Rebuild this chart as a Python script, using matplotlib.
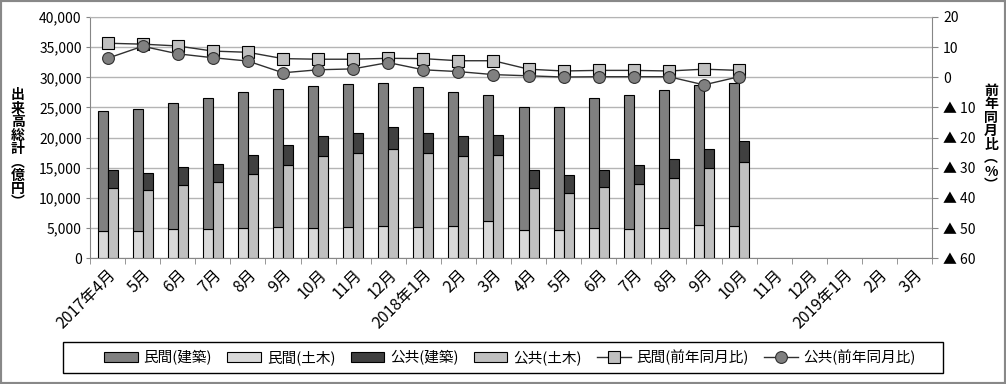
import matplotlib
matplotlib.use("Agg")
import matplotlib.pyplot as plt
from matplotlib.patches import Patch, Rectangle
from matplotlib.lines import Line2D
import numpy as np

plt.rcParams['font.family'] = ['Noto Sans CJK JP', 'DejaVu Sans']

months = ['2017年4月', '5月', '6月', '7月', '8月', '9月', '10月', '11月', '12月',
          '2018年1月', '2月', '3月', '4月', '5月', '6月', '7月', '8月', '9月', '10月',
          '11月', '12月', '2019年1月', '2月', '3月']

# 億円
minkan_doboku = [4500, 4500, 4850, 4850, 4970, 5130, 4970, 5130, 5300, 5130,
                 5300, 6170, 4700, 4700, 4970, 4800, 4970, 5460, 5300]
minkan_kenchiku = [20000, 20200, 20950, 21800, 22600, 23000, 23600, 23700, 23700, 23200,
                   22350, 20850, 20300, 20450, 21550, 22350, 23000, 23350, 23800]
kokyo_doboku = [11600, 11400, 12100, 12600, 13900, 15400, 16900, 17400, 18050, 17400,
                16900, 17200, 11600, 10900, 11750, 12250, 13250, 14900, 15900]
kokyo_kenchiku = [2970, 2800, 2970, 3100, 3150, 3300, 3450, 3450, 3650, 3450,
                  3450, 3300, 2970, 2850, 2950, 3150, 3150, 3300, 3470]
# 前年同月比 (%)
minkan_yoy = [11.3, 11.0, 10.4, 8.7, 8.3, 6.2, 6.0, 6.0, 6.3, 6.2,
              5.5, 5.5, 2.7, 2.1, 2.3, 2.3, 2.1, 2.7, 2.3]
kokyo_yoy = [6.3, 10.3, 7.8, 6.5, 5.4, 1.5, 2.5, 2.8, 4.9, 2.5,
             1.9, 0.9, 0.5, 0.1, 0.2, 0.2, 0.2, -2.5, 0.2]

c_mk = '#808080'
c_md = '#d9d9d9'
c_kk = '#404040'
c_kd = '#c0c0c0'
grid_c = '#b4b4b4'
axis_c = '#868686'

W, H = 1006, 384
fig = plt.figure(figsize=(W / 100, H / 100), dpi=100)
ax = fig.add_axes([90 / W, 1 - 258.3 / H, (932 - 90) / W, (258.3 - 17) / H])

n = len(minkan_doboku)
x = np.arange(n)
bw = 0.285
off = 0.143

ax.bar(x - off, minkan_doboku, bw, color=c_md, edgecolor='black', linewidth=0.8, zorder=3)
ax.bar(x - off, minkan_kenchiku, bw, bottom=minkan_doboku, color=c_mk, edgecolor='black', linewidth=0.8, zorder=3)
ax.bar(x + off, kokyo_doboku, bw, color=c_kd, edgecolor='black', linewidth=0.8, zorder=3)
ax.bar(x + off, kokyo_kenchiku, bw, bottom=kokyo_doboku, color=c_kk, edgecolor='black', linewidth=0.8, zorder=3)

ax.set_xlim(-0.5, len(months) - 0.5)
ax.set_ylim(0, 40000)
ax.set_yticks(np.arange(0, 40001, 5000))
ax.set_yticklabels([f'{v:,}' for v in range(0, 40001, 5000)], fontsize=10)
ax.yaxis.grid(True, color=grid_c, linewidth=1, zorder=0)
ax.set_axisbelow(True)

ax.set_xticks(np.arange(len(months)))
ax.set_xticklabels(months, rotation=45, ha='right', rotation_mode='anchor', fontsize=11.5)
ax.set_xticks(np.arange(len(months) + 1) - 0.5, minor=True)
ax.tick_params(axis='x', which='major', length=0, pad=6)
ax.tick_params(axis='x', which='minor', length=4, color=axis_c, direction='out')
ax.tick_params(axis='y', length=3, color=axis_c, direction='out', pad=3)

for s in ['left', 'bottom', 'right']:
    ax.spines[s].set_color(axis_c)
ax.spines['top'].set_color(grid_c)

ax2 = ax.twinx()
ax2.set_ylim(-60, 20)
yt = list(range(-60, 21, 10))
ax2.set_yticks(yt)
ax2.set_yticklabels([('▲ ' + str(-v)) if v < 0 else str(v) for v in yt], fontsize=10)
ax2.tick_params(axis='y', length=4, color=axis_c, direction='out', pad=4)
for s in ax2.spines.values():
    s.set_visible(False)

ax2.plot(x, minkan_yoy, color='#303030', linewidth=1, marker='s', markersize=8,
         markerfacecolor=c_kd, markeredgecolor='black', markeredgewidth=0.8, zorder=5)
ax2.plot(x, kokyo_yoy, color='#303030', linewidth=1, marker='o', markersize=8.5,
         markerfacecolor=c_mk, markeredgecolor='#303030', markeredgewidth=0.8, zorder=6)

# vertical axis titles
fig.text(18 / W, 1 - 149 / H, '\n'.join('出来高総計︵億円︶'), fontsize=10, fontweight='bold',
         ha='center', va='center', linespacing=0.95)
fig.text(991 / W, 1 - 138 / H, '\n'.join('前年同月比︵%︶'), fontsize=10, fontweight='bold',
         ha='center', va='center', linespacing=0.95)

handles = [
    Patch(facecolor=c_mk, edgecolor='black', linewidth=0.8),
    Patch(facecolor=c_md, edgecolor='black', linewidth=0.8),
    Patch(facecolor=c_kk, edgecolor='black', linewidth=0.8),
    Patch(facecolor=c_kd, edgecolor='black', linewidth=0.8),
    Line2D([], [], color='#303030', linewidth=1, marker='s', markersize=8,
           markerfacecolor=c_kd, markeredgecolor='black', markeredgewidth=0.8),
    Line2D([], [], color='#303030', linewidth=1, marker='o', markersize=8.5,
           markerfacecolor=c_mk, markeredgecolor='#303030', markeredgewidth=0.8),
]
labels = ['民間(建築)', '民間(土木)', '公共(建築)', '公共(土木)', '民間(前年同月比)', '公共(前年同月比)']
fig.legend(handles, labels, loc='center', bbox_to_anchor=(510 / W, 1 - 357.5 / H), ncol=6,
           frameon=False, fontsize=10.5, handlelength=2.3, handletextpad=0.4, columnspacing=1.05)

fig.patches.append(Rectangle((63 / W, 1 - 373 / H), (943 - 63) / W, (373 - 342) / H,
                             transform=fig.transFigure, fill=False, edgecolor='black', linewidth=1))
fig.patches.append(Rectangle((0, 0), 1, 1, transform=fig.transFigure, fill=False,
                             edgecolor='#888888', linewidth=3))

fig.savefig('out.png', dpi=100)
